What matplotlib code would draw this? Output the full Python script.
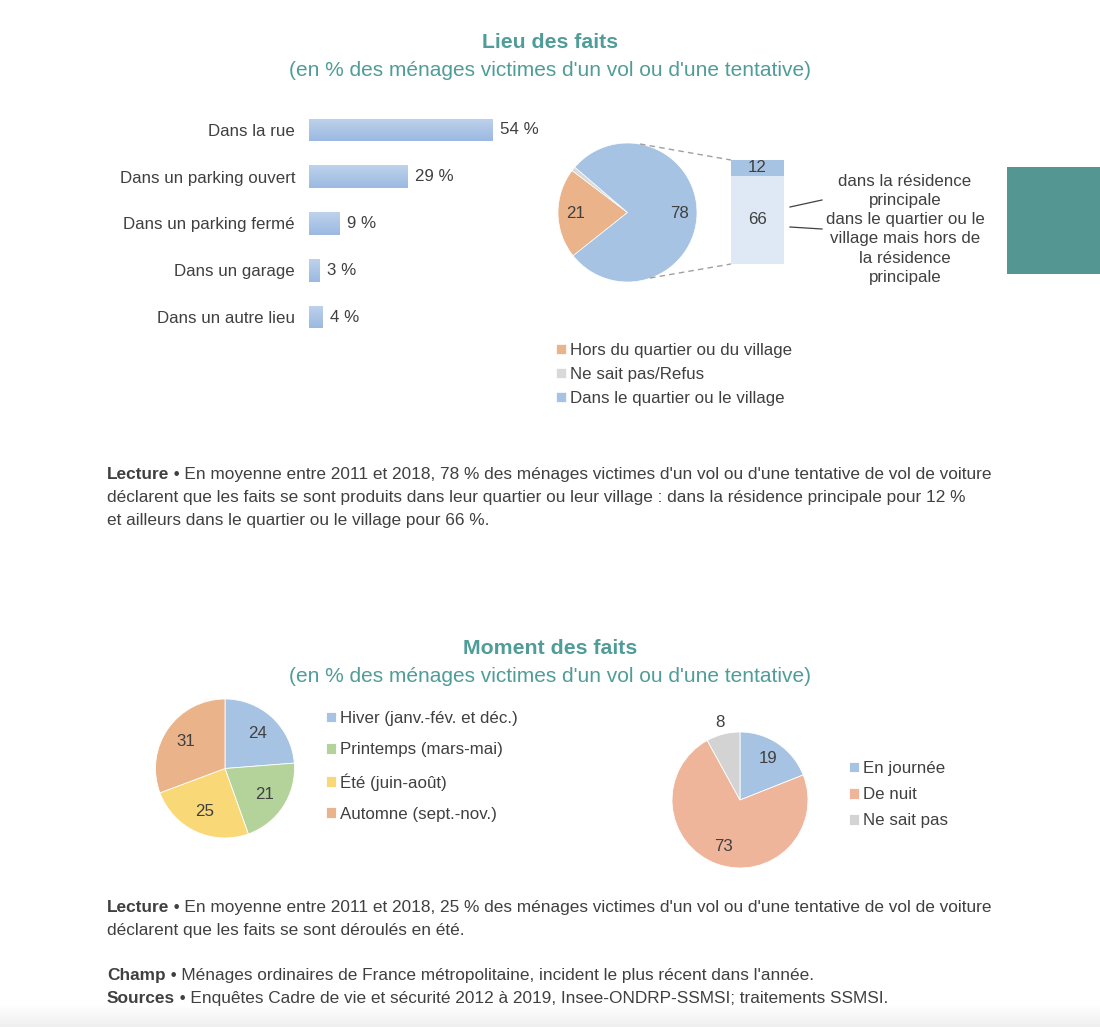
import matplotlib
matplotlib.use('Agg')
import matplotlib.pyplot as plt
from matplotlib.transforms import Affine2D
from matplotlib.patches import Rectangle
from matplotlib.lines import Line2D
from matplotlib.colors import LinearSegmentedColormap
import numpy as np

plt.rcParams['font.family'] = ['Liberation Sans', 'DejaVu Sans']

# ---------------- data ----------------
lieu_categories = ["Dans la rue", "Dans un parking ouvert", "Dans un parking fermé",
                   "Dans un garage", "Dans un autre lieu"]
lieu_values = [54, 29, 9, 3, 4]

quartier_labels = ["Hors du quartier ou du village", "Ne sait pas/Refus",
                   "Dans le quartier ou le village"]
quartier_values = [21, 1, 78]

detail_labels = ["dans la résidence\nprincipale",
                 "dans le quartier ou le\nvillage mais hors de\nla résidence\nprincipale"]
detail_values = [12, 66]

saison_labels = ["Hiver (janv.-fév. et déc.)", "Printemps (mars-mai)",
                 "Été (juin-août)", "Automne (sept.-nov.)"]
saison_values = [24, 21, 25, 31]

moment_labels = ["En journée", "De nuit", "Ne sait pas"]
moment_values = [19, 73, 8]

# ---------------- style ----------------
TEAL = '#4f9c98'
TXT = '#404040'
BLUE = '#a6c3e4'
ORANGE = '#eab389'
GRAY = '#d9d9d9'
LIGHTBLUE = '#dfe9f5'
GREEN = '#b3d39b'
YELLOW = '#f9d877'
SALMON = '#eeb59b'
GRAY2 = '#d3d3d3'
FS = 12.2
FSP = 12.4

W, H = 1100, 1027
fig = plt.figure(figsize=(W / 100, H / 100), dpi=100)
fig.patch.set_facecolor('white')
PX = Affine2D().scale(1 / W, -1 / H).translate(0, 1) + fig.transFigure


def add_ax(x0, y0, x1, y1):
    return fig.add_axes([x0 / W, 1 - y1 / H, (x1 - x0) / W, (y1 - y0) / H])


def ftext(x, y, s, **kw):
    kw.setdefault('color', TXT)
    kw.setdefault('fontsize', FS)
    kw.setdefault('va', 'center')
    return fig.text(x, y, s, transform=PX, **kw)


renderer = fig.canvas.get_renderer()


def para(x, y0, bold, lines, dy=23):
    # y0 is the visual centre of the line; draw on a common baseline
    yb = y0 + 5
    t = ftext(x, yb, bold, fontweight='bold', fontsize=FSP, va='baseline')
    bb = t.get_window_extent(renderer)
    ftext(x + bb.width, yb, " \u2022 " + lines[0], fontsize=FSP, va='baseline')
    for i, ln in enumerate(lines[1:], start=1):
        ftext(x, yb + i * dy, ln, fontsize=FSP, va='baseline')


# bottom fade
axg = add_ax(0, 1005, 1100, 1027)
axg.imshow(np.linspace(0, 1, 60).reshape(-1, 1), aspect='auto', extent=[0, 1, 0, 1],
           cmap=LinearSegmentedColormap.from_list('fade', ['#ffffff', '#efefef']))
axg.axis('off')
axg.set_zorder(-5)

# ---------------- titles ----------------
ftext(550, 42, "Lieu des faits", ha='center', color=TEAL, fontsize=15.3, fontweight='bold')
ftext(550, 70, "(en % des ménages victimes d'un vol ou d'une tentative)", ha='center',
      color=TEAL, fontsize=15)
ftext(550, 648, "Moment des faits", ha='center', color=TEAL, fontsize=15.3, fontweight='bold')
ftext(550, 677, "(en % des ménages victimes d'un vol ou d'une tentative)", ha='center',
      color=TEAL, fontsize=15)

# ---------------- bar chart ----------------
axb = add_ax(309, 106.6, 309 + 60 * 3.39, 340.4)
ypos = np.arange(len(lieu_values))
bars = axb.barh(ypos, lieu_values, height=0.49, color=BLUE, edgecolor='none')
grad_cmap = LinearSegmentedColormap.from_list('bar', ['#bed2ec', '#9bb9e1'])
for b in bars:
    x0, y0 = b.get_x(), b.get_y()
    im = axb.imshow(np.linspace(0, 1, 40).reshape(-1, 1), cmap=grad_cmap, aspect='auto',
                    extent=[x0, x0 + b.get_width(), y0 + b.get_height(), y0],
                    origin='upper', zorder=2)
    im.set_clip_path(b)
axb.set_xlim(0, 60)
axb.set_ylim(len(lieu_values) - 0.5, -0.5)
axb.set_yticks(ypos, lieu_categories, fontsize=FS, color=TXT)
axb.tick_params(axis='y', length=0, pad=10)
axb.set_xticks([])
for sp in axb.spines.values():
    sp.set_visible(False)
axb.bar_label(bars, labels=[f"{v} %" for v in lieu_values], padding=5.5,
              fontsize=FS, color=TXT)

# ---------------- pie 1 ----------------
cx, cy, r = 627.5, 212.5, 69.5
axp1 = add_ax(cx - r, cy - r, cx + r, cy + r)
w1, _ = axp1.pie(quartier_values, colors=[ORANGE, GRAY, BLUE], startangle=218.5,
                 counterclock=False, radius=1,
                 wedgeprops=dict(edgecolor='white', linewidth=0.5))
axp1.set_xlim(-1, 1)
axp1.set_ylim(-1, 1)
axp1.axis('off')
for w, v in zip(w1, quartier_values):
    if v < 5:
        continue
    ang = np.deg2rad((w.theta1 + w.theta2) / 2)
    axp1.text(0.75 * np.cos(ang), 0.75 * np.sin(ang), str(v), ha='center', va='center',
              fontsize=FS, color=TXT)

# connector dashed lines
fig.add_artist(Line2D([640, 731], [144, 160], transform=PX, color='#a0a0a0',
                      lw=1, ls=(0, (4, 3))))
fig.add_artist(Line2D([650, 731], [278, 264], transform=PX, color='#a0a0a0',
                      lw=1, ls=(0, (4, 3))))

# ---------------- stacked bar ----------------
axs = add_ax(731, 160, 784, 264)
axs.bar(0, detail_values[1], width=1, color=LIGHTBLUE, edgecolor='none')
axs.bar(0, detail_values[0], bottom=detail_values[1], width=1, color=BLUE, edgecolor='none')
axs.set_xlim(-0.5, 0.5)
axs.set_ylim(0, sum(detail_values))
axs.axis('off')
axs.text(0, detail_values[1] + detail_values[0] / 2, str(detail_values[0]), ha='center',
         va='center', fontsize=FS, color=TXT)
axs.text(0, detail_values[1] / 2, str(detail_values[1]), ha='center', va='center',
         fontsize=FS, color=TXT)

# leader lines and labels
fig.add_artist(Line2D([790, 822], [207, 200], transform=PX, color=TXT, lw=0.9))
fig.add_artist(Line2D([790, 822], [227, 229], transform=PX, color=TXT, lw=0.9))
ftext(905, 191, detail_labels[0], ha='center', linespacing=1.34)
ftext(905, 248.5, detail_labels[1], ha='center', linespacing=1.34)

# teal block
fig.add_artist(Rectangle((1007, 167), 93, 107, transform=PX, facecolor='#549692',
                         edgecolor='none'))

# legend 1
fig.legend(w1, quartier_labels, loc='upper left', bbox_to_anchor=(556 / W, 1 - 343 / H),
           frameon=False, fontsize=FS, labelcolor=TXT, handlelength=0.6, handleheight=0.6,
           handletextpad=0.25, labelspacing=0.53, borderpad=0, borderaxespad=0)

# ---------------- paragraphs 1 ----------------
para(107, 474, "Lecture",
     ["En moyenne entre 2011 et 2018, 78 % des ménages victimes d'un vol ou d'une tentative de vol de voiture",
      "déclarent que les faits se sont produits dans leur quartier ou leur village : dans la résidence principale pour 12 %",
      "et ailleurs dans le quartier ou le village pour 66 %."])

# ---------------- pie 2 (saisons) ----------------
cx, cy, r = 225, 768.5, 69.5
axp2 = add_ax(cx - r, cy - r, cx + r, cy + r)
w2, _ = axp2.pie(saison_values, colors=[BLUE, GREEN, YELLOW, ORANGE], startangle=90,
                 counterclock=False, radius=1,
                 wedgeprops=dict(edgecolor='white', linewidth=0.6))
axp2.set_xlim(-1, 1)
axp2.set_ylim(-1, 1)
axp2.axis('off')
for w, v in zip(w2, saison_values):
    ang = np.deg2rad((w.theta1 + w.theta2) / 2)
    axp2.text(0.68 * np.cos(ang), 0.68 * np.sin(ang), str(v), ha='center', va='center',
              fontsize=FS, color=TXT)
fig.legend(w2, saison_labels, loc='upper left', bbox_to_anchor=(326 / W, 1 - 711 / H),
           frameon=False, fontsize=FS, labelcolor=TXT, handlelength=0.6, handleheight=0.6,
           handletextpad=0.25, labelspacing=0.95, borderpad=0, borderaxespad=0)

# ---------------- pie 3 (moment) ----------------
cx, cy, r = 740, 800, 68
axp3 = add_ax(cx - r, cy - r, cx + r, cy + r)
w3, _ = axp3.pie(moment_values, colors=[BLUE, SALMON, GRAY2], startangle=90,
                 counterclock=False, radius=1,
                 wedgeprops=dict(edgecolor='white', linewidth=0.6))
axp3.set_xlim(-1, 1)
axp3.set_ylim(-1, 1)
axp3.axis('off')
for w, v in zip(w3, moment_values):
    ang = np.deg2rad((w.theta1 + w.theta2) / 2)
    d = 1.18 if v < 10 else 0.73
    axp3.text(d * np.cos(ang), d * np.sin(ang), str(v), ha='center', va='center',
              fontsize=FS, color=TXT)
fig.legend(w3, moment_labels, loc='upper left', bbox_to_anchor=(849 / W, 1 - 761 / H),
           frameon=False, fontsize=FS, labelcolor=TXT, handlelength=0.6, handleheight=0.6,
           handletextpad=0.25, labelspacing=0.66, borderpad=0, borderaxespad=0)

# ---------------- paragraphs 2 ----------------
para(107, 907, "Lecture",
     ["En moyenne entre 2011 et 2018, 25 % des ménages victimes d'un vol ou d'une tentative de vol de voiture",
      "déclarent que les faits se sont déroulés en été."])
para(107, 975, "Champ",
     ["Ménages ordinaires de France métropolitaine, incident le plus récent dans l'année."])
para(107, 998, "Sources",
     ["Enquêtes Cadre de vie et sécurité 2012 à 2019, Insee-ONDRP-SSMSI; traitements SSMSI."])

fig.savefig('out.png', dpi=100, facecolor='white')
